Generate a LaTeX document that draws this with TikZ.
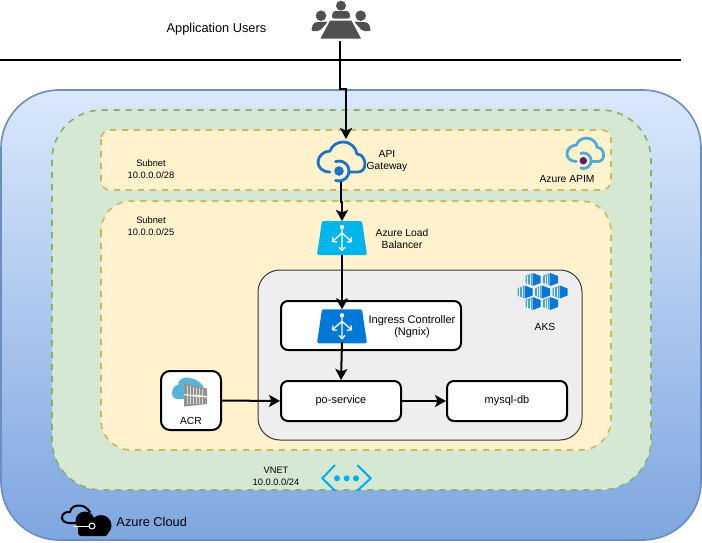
\documentclass[tikz,border=0pt]{standalone}
\usepackage{fontspec}
\setmainfont{Liberation Sans}
\usetikzlibrary{arrows.meta}
\definecolor{CloudTop}{HTML}{DAE8FC}
\definecolor{CloudBot}{HTML}{7EA6E0}
\definecolor{CloudEdge}{HTML}{6C8EBF}
\definecolor{VnetFill}{HTML}{D5E8D4}
\definecolor{VnetEdge}{HTML}{82B366}
\definecolor{SubFill}{HTML}{FFF2CC}
\definecolor{SubEdge}{HTML}{D6B656}
\definecolor{AksFill}{HTML}{EEEEEE}
\definecolor{AksEdge}{HTML}{36393D}
\definecolor{azdark}{HTML}{0078D7}
\definecolor{azsky}{HTML}{00B4EC}
\definecolor{azgate}{HTML}{1A75C4}
\definecolor{azsoft}{HTML}{59B4D9}
\definecolor{azpurple}{HTML}{5C1A7A}
\definecolor{peoplegray}{HTML}{505050}
\tikzset{
  vnetarea/.style = {draw=VnetEdge, fill=VnetFill, line width=1.6pt, dash pattern=on 6pt off 6pt},
  subarea/.style  = {draw=SubEdge, fill=SubFill, line width=1.6pt, dash pattern=on 6pt off 6pt},
  svcbox/.style   = {draw, fill=white, line width=2pt, rounded corners=7pt, align=center, inner sep=0pt},
  iconbox/.style  = {inner sep=0pt, outer sep=0pt},
  flow/.style     = {-{Stealth[length=11pt,width=12pt,inset=2.5pt]}, line width=2pt},
  txt/.style      = {font=\fontsize{10.3}{12}\selectfont, align=center, inner sep=0pt},
  nettxt/.style   = {font=\fontsize{9.3}{12}\selectfont, align=center, inner sep=0pt},
  bigtxt/.style   = {font=\fontsize{12.8}{15}\selectfont, inner sep=0pt},
  midtxt/.style   = {font=\fontsize{11}{12}\selectfont, align=center, inner sep=0pt},
  every pic/.style = {yscale=-1},
  pics/apicloud/.style 2 args = {code={
    \draw[#1, line width=2.8pt, line cap=round, line join=round]
      (-9,1) .. controls (-17,1) and (-21,-4) .. (-21,-9)
      .. controls (-21,-15) and (-15,-20) .. (-9,-20)
      .. controls (-7,-26) and (-1,-29) .. (4,-29)
      .. controls (12,-29) and (17,-23) .. (18,-17)
      .. controls (23,-17) and (26,-12) .. (26,-7)
      .. controls (26,-2) and (23,1) .. (19,1) -- (10,1);
    \draw[#1, line width=2.8pt, line cap=round] (-3.4,-9.4) arc (-110:110:10);
    \fill[#2] (0,0) circle (4.8);
  }},
  pics/lbicon/.style = {code={
    \fill[#1, rounded corners=1.5pt] (-20,0) -- (20,0) -- (25,34) -- (-25,34) -- cycle;
    \fill[white] (0,6) circle (2.2);
    \draw[white, line width=1.3pt] (0,6) -- (0,29) (0,12) -- (-9,20) (0,12) -- (9,20);
    \draw[white, line width=1.3pt] (-3,26) -- (0,29.5) -- (3,26);
    \draw[white, line width=1.3pt] (-9,16) -- (-9.5,20.5) -- (-5,21);
    \draw[white, line width=1.3pt] (9,16) -- (9.5,20.5) -- (5,21);
  }},
  pics/cube/.style = {code={
    \fill[azsoft!70!azdark] (-7.5,-3.5) -- (-1,-6) -- (-1,6) -- (-7.5,3.5) -- cycle;
    \draw[white, line width=.4pt] (-5.5,-4) -- (-5.5,4) (-3.3,-5) -- (-3.3,5);
    \fill[azdark] (-.3,-6.5) -- (7.5,-3.5) -- (7.5,3.5) -- (-.3,6.5) -- cycle;
  }},
}
\begin{document}
\begin{tikzpicture}[x=1pt, y=1pt, yscale=-1]
  \useasboundingbox (0,0) rectangle (702,542);
  % nested network areas
  \shade[top color=CloudTop, bottom color=CloudBot]
    [rounded corners=58pt] (1,90) rectangle (701,540);
  \draw[CloudEdge, line width=1.6pt, rounded corners=58pt] (1,90) rectangle (701,540);
  \draw[vnetarea, rounded corners=50pt] (52,110) rectangle (651,490);
  \draw[subarea, rounded corners=9pt] (101,130) rectangle (611,190);
  \draw[subarea, rounded corners=30pt] (101,201) rectangle (611,450);
  \draw[draw=AksEdge, fill=AksFill, line width=1pt, rounded corners=22pt] (258,270) rectangle (582,440);
  \draw[line width=2pt] (0,60) -- (681,60);

  % users icon
  \node[iconbox, minimum width=60pt, minimum height=40pt] (users) at (340,20.5) {};
  \fill[peoplegray] (330,20.7) -- (351.5,20.7) -- (361,38.5) -- (320.5,38.5) -- cycle;
  \fill[peoplegray] (341,5.7) circle (5);
  \fill[peoplegray, rounded corners=2.5pt] (331.5,18.5) -- (333,11) -- (349,11) -- (350.5,18.5) -- cycle;
  \fill[peoplegray] (321,15.7) circle (5.3);
  \fill[peoplegray, rounded corners=2pt] (311,31) -- (313.5,22.5) -- (328,21.5) -- (319.5,31) -- cycle;
  \fill[peoplegray] (360.7,15.7) circle (5.3);
  \fill[peoplegray, rounded corners=2pt] (371,31) -- (368.5,22.5) -- (354,21.5) -- (362.5,31) -- cycle;

  % gateway and APIM
  \node[iconbox, minimum width=48pt, minimum height=43pt] (gateway) at (341,160.5) {};
  \pic at (339,171) {apicloud={azgate}{azgate}};
  \pic[scale=.78] at (583.3,160.7) {apicloud={azsoft!85!azgate}{azpurple}};

  % load balancers
  \node[iconbox, minimum width=50pt, minimum height=34pt] (balancer) at (342,238) {};
  \pic at (342,221) {lbicon=azsky};

  % AKS cubes
  \foreach \px/\py in {533/279.5, 550.5/279.5, 525/292, 542.5/292, 560/292, 533/303.5, 550.5/303.5}
    \pic at (\px,\py) {cube};

  % service boxes
  \node[svcbox, minimum width=180pt, minimum height=49pt] (ingressbox) at (371,325.5) {};
  \node[iconbox, minimum width=50pt, minimum height=33pt] (ingress) at (342,325.8) {};
  \pic at (342,309.3) {lbicon=azdark};
  \node[svcbox, midtxt, minimum width=120pt, minimum height=40pt] (poservice) at (341,401) {po-service};
  \node[svcbox, midtxt, minimum width=120pt, minimum height=40pt] (mysqldb) at (507,401) {mysql-db};
  \node[svcbox, rounded corners=9pt, minimum width=60pt, minimum height=59pt] (acr) at (191,400.5) {};

  % ACR icon
  \fill[azsoft] (172,394) .. controls (172,388) and (175,385) .. (178,385)
    .. controls (178,379) and (185,376) .. (190,378)
    .. controls (196,379) and (200,382) .. (203,386) -- (203,392) -- (186,398.5)
    .. controls (180,400) and (172,400) .. (172,394) -- cycle;
  \fill[gray!85] (184,383) -- (207,388.5) -- (207,396) -- (184,394) -- cycle;
  \fill[gray!85] (184,395.5) -- (207,397.5) -- (207,404) -- (184,406.5) -- cycle;
  \foreach \sx in {187,190,193,196,199,202}
    \draw[white!70!gray, line width=.7pt] (\sx,{385+(\sx-184)*.22}) -- (\sx,{404.5-(\sx-184)*.05});
  \draw[white, line width=1pt] (184,394.7) -- (207,396.7);

  % vnet icon
  \node[iconbox, minimum width=49pt, minimum height=26pt] (vnet) at (346.5,478) {};
  \draw[azsky!90!azdark, line width=2pt] (335,465) -- (322.3,478.3) -- (335,490.7);
  \draw[azsky!90!azdark, line width=2pt] (357.3,465) -- (370.7,478.3) -- (357.3,490.7);
  \foreach \dx in {337,346.7,356}
    \fill[azsky!90!azdark] (\dx,478.3) circle (3);

  % cloud logo
  \node[iconbox, minimum width=50pt, minimum height=32pt] (azurelogo) at (86,521) {};
  \draw[black, line width=2pt, line cap=round] (80,523) -- (70,523)
    .. controls (65,523) and (62,521) .. (62,517.5)
    .. controls (62,513) and (67,511.5) .. (70,512)
    .. controls (71,507) and (75,505.5) .. (79,505.5)
    .. controls (84,505.5) and (87,508) .. (90,512);
  \fill[black] (85,521) circle (9.5);
  \fill[black] (101,525.5) circle (10.5);
  \fill[black, rounded corners=3pt] (78,522) rectangle (108,536);
  \draw[white, line width=1pt] (73,526) -- (89,526);
  \draw[white, line width=1pt] (92,526) circle (3);

  % connectors
  \draw[flow] (users.south) -- (340,89) -| ([xshift=5pt]gateway.north);
  \draw[flow] (gateway.south) -- (341,202) -| (balancer.north);
  \draw[flow] (balancer.south) -- (ingress.north);
  \draw[flow] (ingress.south) -- (poservice.north);
  \draw[flow] (acr.east) -- (poservice.west);
  \draw[flow] (poservice.east) -- (mysqldb.west);

  % labels
  \node[bigtxt] (userslbl) at (216.5,29) {Application Users};
  \node[txt] (gatewaylbl) at (387,161.5) {API\\Gateway};
  \node[txt] (apimlbl) at (567,179.3) {Azure APIM};
  \node[nettxt] (subnetA) at (151,168.7) {Subnet\\10.0.0.0/28};
  \node[nettxt] (subnetB) at (151,225.7) {Subnet\\10.0.0.0/25};
  \node[txt] (balancerlbl) at (402,238.7) {Azure Load\\Balancer};
  \node[txt] (akslbl) at (545,326.7) {AKS};
  \node[midtxt] (ingresslbl) at (412,327) {Ingress Controller\\(Ngnix)};
  \node[txt] (acrlbl) at (191,420.7) {ACR};
  \node[nettxt] (vnetlbl) at (276,476.7) {VNET\\10.0.0.0/24};
  \node[bigtxt] (cloudlbl) at (151.7,521.7) {Azure Cloud};
\end{tikzpicture}
\end{document}
